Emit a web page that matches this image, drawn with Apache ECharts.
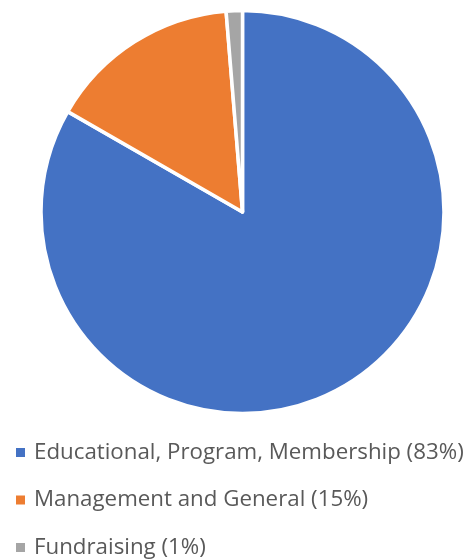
<!DOCTYPE html>
<html>
<head>
<meta charset="utf-8">
<script src="https://cdn.jsdelivr.net/npm/echarts@6/dist/echarts.min.js"></script>
<style>
  html, body { margin: 0; padding: 0; background: #fff; }
  #chart { width: 476px; height: 560px; }
</style>
</head>
<body>
<div id="chart"></div>
<script>
// categories and shares (percent of total expenses)
const categories = ['Educational, Program, Membership', 'Management and General', 'Fundraising'];
const values = [83.3, 15.4, 1.3];
const legendPct = ['83%', '15%', '1%'];
const colors = ['#4472C4', '#ED7D31', '#A5A5A5'];

const pieData = categories.map((name, i) => ({
  name: name,
  value: values[i],
  itemStyle: { color: colors[i] }
}));

const chart = echarts.init(document.getElementById('chart'));
chart.setOption({
  animation: false,
  backgroundColor: '#ffffff',
  legend: {
    orient: 'vertical',
    left: 16,
    top: 440.5,
    height: 119,
    padding: 0,
    itemWidth: 9,
    itemHeight: 9,
    itemGap: 23.5,
    icon: 'rect',
    itemStyle: { borderWidth: 0 },
    data: categories,
    formatter: function (name) {
      return name + ' (' + legendPct[categories.indexOf(name)] + ')';
    },
    textStyle: {
      fontFamily: 'Open Sans',
      fontSize: 22.3,
      color: '#595959',
      lineHeight: 24,
      padding: [0, 0, 0, 4]
    }
  },
  series: [{
    type: 'pie',
    center: [242.5, 212],
    radius: 201.5,
    startAngle: 90,
    clockwise: true,
    label: { show: false },
    labelLine: { show: false },
    itemStyle: { borderColor: '#ffffff', borderWidth: 3.5 },
    emphasis: { disabled: true },
    data: pieData
  }]
});
</script>
</body>
</html>
